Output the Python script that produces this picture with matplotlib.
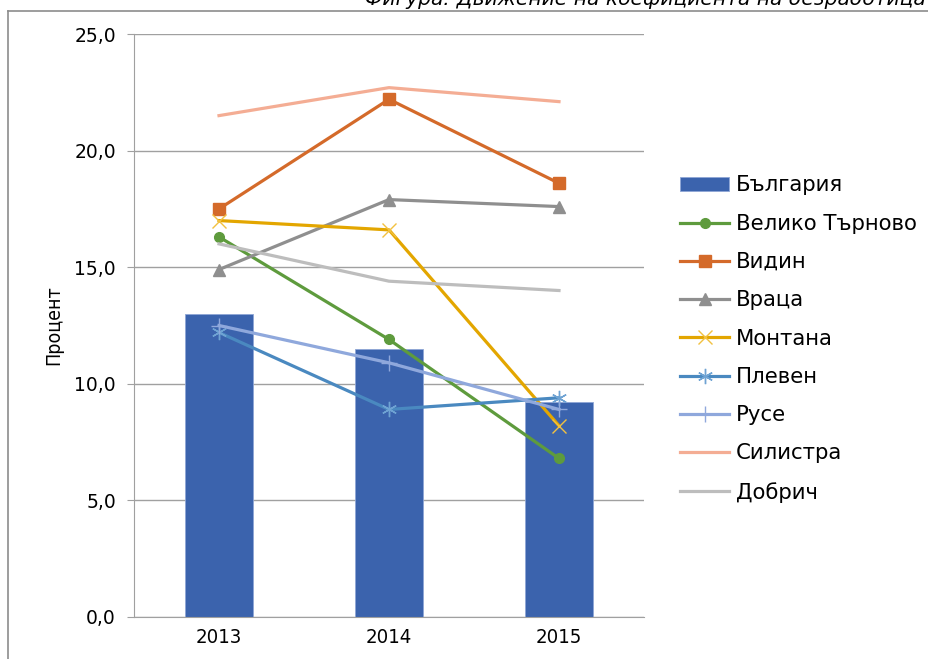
import matplotlib
matplotlib.use('Agg')
import matplotlib.pyplot as plt
from matplotlib.lines import Line2D
from matplotlib.ticker import FuncFormatter

# Years and unemployment rates (%)
years = ['2013', '2014', '2015']
bulgaria = [13.0, 11.5, 9.2]
veliko_tarnovo = [16.3, 11.9, 6.8]
vidin = [17.5, 22.2, 18.6]
vratsa = [14.9, 17.9, 17.6]
montana = [17.0, 16.6, 8.2]
pleven = [12.2, 8.9, 9.4]
ruse = [12.5, 10.9, 8.9]
silistra = [21.5, 22.7, 22.1]
dobrich = [16.0, 14.4, 14.0]

plt.rcParams['font.family'] = ['DejaVu Sans']

fig = plt.figure(figsize=(9.29, 6.59), dpi=100)
ax = fig.add_axes([134/929, 1 - 617/659, 510/929, 583/659])

x = list(range(len(years)))
ax.bar(x, bulgaria, width=0.4, color='#3B63AD', edgecolor='#8EA6D6', linewidth=0.6,
       label='България', zorder=2)

lw = 2.3
ax.plot(x, veliko_tarnovo, color='#5E9B3D', lw=lw, marker='o', ms=7, label='Велико Търново', zorder=3)
ax.plot(x, vidin, color='#D46A2A', lw=lw, marker='s', ms=8, label='Видин', zorder=3)
ax.plot(x, vratsa, color='#8F8F8F', lw=lw, marker='^', ms=8, label='Враца', zorder=3)
ax.plot(x, montana, color='#E3A600', lw=lw, marker='x', ms=10, mew=1.0,
        mec='#F2C140', label='Монтана', zorder=3)
ax.plot(x, pleven, color='#4A89C0', lw=lw, marker=(6, 2, 0), ms=11, mew=1.0,
        mec='#6FA3D3', label='Плевен', zorder=3)
ax.plot(x, ruse, color='#8FA8DC', lw=lw, marker='+', ms=11, mew=1.0, label='Русе', zorder=3)
ax.plot(x, silistra, color='#F4AD94', lw=lw, label='Силистра', zorder=3)
ax.plot(x, dobrich, color='#BDBDBD', lw=lw, label='Добрич', zorder=3)

ax.set_xlim(-0.5, 2.5)
ax.set_ylim(0, 25)
ax.set_yticks([0, 5, 10, 15, 20, 25])
ax.yaxis.set_major_formatter(FuncFormatter(lambda v, p: f'{v:.1f}'.replace('.', ',')))
ax.set_xticks(x)
ax.set_xticklabels(years, fontsize=14.6, fontstretch='condensed')
ax.tick_params(axis='x', length=0, pad=8)
ax.tick_params(axis='y', length=5, color='#A0A0A0', labelsize=13.5, pad=8)
ax.grid(axis='y', color='#A0A0A0', lw=1.0, zorder=0)
ax.set_axisbelow(True)
for s in ['top', 'right']:
    ax.spines[s].set_visible(False)
for s in ['left', 'bottom']:
    ax.spines[s].set_color('#A0A0A0')
ax.set_ylabel('Процент', fontsize=14, fontstretch='condensed', labelpad=8)

# bar series first in the legend
handles, labels = ax.get_legend_handles_labels()
handles = handles[-1:] + handles[:-1]
labels = labels[-1:] + labels[:-1]
ax.legend(handles, labels, loc='upper left', bbox_to_anchor=(672/929, 1 - 167/659),
          bbox_transform=fig.transFigure, frameon=False, fontsize=15.3, handlelength=2.3,
          handleheight=0.6, handletextpad=0.3, labelspacing=0.86, borderaxespad=0)

# outer frame and title line
fig.add_artist(Line2D([8/929, 8/929], [0, 1 - 11/659], color='#8C8C8C', lw=1.2))
fig.add_artist(Line2D([8/929, 1], [1 - 11/659, 1 - 11/659], color='#8C8C8C', lw=1.2))
fig.text(365/929, 1 - 5/659, 'Фигура: Движение на коефициента на безработица',
         fontsize=14.6, style='italic', va='baseline', ha='left')

fig.savefig('out.png', dpi=100)
